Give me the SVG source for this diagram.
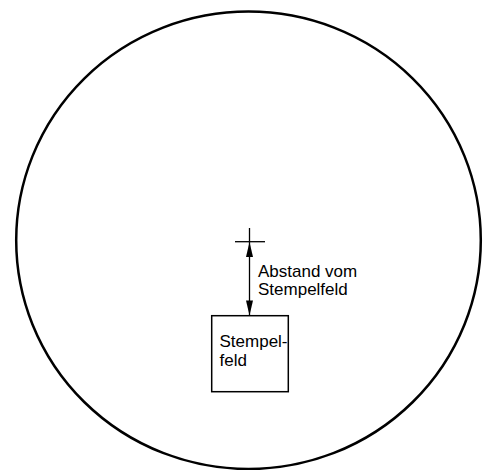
<svg xmlns="http://www.w3.org/2000/svg" width="483" height="470" viewBox="0 0 483 470">
<defs>
<style>
.ln{stroke:#000;fill:none;stroke-width:1.3}
.txt{font-family:"Liberation Sans",Arial,sans-serif;font-size:17px;fill:#000}
.ah{fill:#000}
</style>
</defs>
<rect width="483" height="470" fill="#fff"/>
<g id="outline">
<ellipse cx="248.5" cy="240.3" rx="232.3" ry="228.7" stroke="#000" fill="none" stroke-width="2.5"/>
</g>
<g id="cross">
<line class="ln" x1="235" y1="241.7" x2="265" y2="241.7"/>
<line class="ln" x1="249.5" y1="228" x2="249.5" y2="241.7"/>
</g>
<g id="connectors">
<line class="ln" x1="249.5" y1="242" x2="249.5" y2="315" stroke-width="1.5"/>
<path class="ah" d="M249.5,242 L246,257 L253,257 z"/>
<path class="ah" d="M249.5,315.5 L246,300.5 L253,300.5 z"/>
</g>
<g id="label">
<text class="txt" x="258" y="276.5">Abstand vom</text>
<text class="txt" x="258" y="295">Stempelfeld</text>
</g>
<g id="stempelfeld">
<rect x="211.7" y="315.7" width="76.6" height="76" fill="#fff" stroke="#000" stroke-width="1.5"/>
<text class="txt" x="219.5" y="346.5">Stempel-</text>
<text class="txt" x="219.5" y="365.5">feld</text>
</g>
</svg>
